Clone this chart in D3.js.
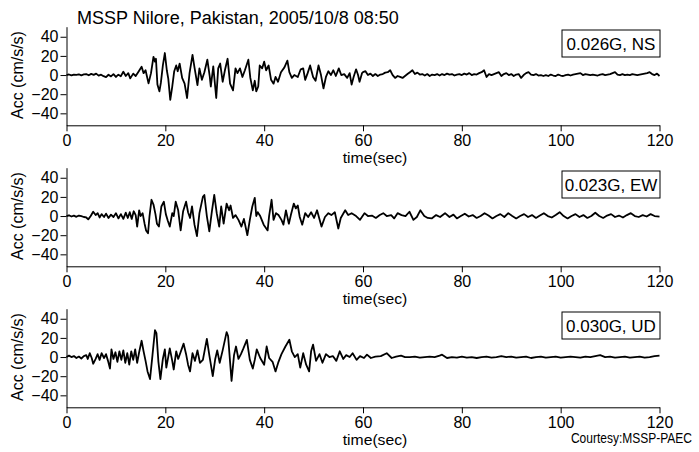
<!DOCTYPE html>
<html>
<head>
<meta charset="utf-8">
<script src="https://cdn.jsdelivr.net/npm/d3@7"></script>
<style>
  body { margin: 0; background: #fff; }
  svg { display: block; }
  text { font-family: 'Liberation Sans', Arial, sans-serif; fill: #000; }
</style>
</head>
<body>
<div id="chart"></div>
<script>
// Hand-digitised accelerograms, time (s) and acceleration (cm/s/s)
const nsMainTime = [0,0.5,1,1.5,2,2.5,3,3.5,4,4.5,5,5.5,6,6.5,7,7.5,8,8.5,9,9.5,10,10.5,11,11.5,12,12.5,12.9,13.5,14,14.5,15.2,15.6,16,16.6,17.1,17.6,17.9,18.1,18.4,18.8,19.1,19.5,19.9,20.3,20.6,21,21.4,21.8,22.2,22.5,22.9,23.4,23.9,24.4,24.9,25.5,25.9,26.5,26.9,27.4,27.9,28.5,29,29.2,29.7,30.3,30.7,31.1,31.6,32.1,32.6,33.1,33.7,34.2,34.6,35.1,35.6,36.1,36.8,37.2,37.7,38.1,38.4,38.8,39.1,39.6,40,40.4,40.9,41.4,41.9,42.3,42.8,43.4,44.1,44.7,45.1,45.6,46.1,46.8,47.4,47.9,48.3,48.8,49.3,49.9,50.4,51,51.5,52,52.5,53,53.5,54,54.5,55.1,55.6,56.2,56.8,57.3,57.7,58.1,58.6,59,59.3,59.8]
const nsMainAcc = [0,0.6,-0.4,0.5,0.2,0.8,-0.3,0.6,0.9,-0.2,1.2,0.2,1.5,-0.6,0.4,-1.2,-2.2,0.3,-1.4,1,-2,0.4,-1.2,3.5,-1,2,-3.5,1.5,-1,3,8.7,2,5,-8.7,2,19,14,17,-10,-17,-8,10,23,5,-4,-26,-12,4,10,4,12,-3,-9,-24,2,21,8,-10.5,7,-5,3,16,-2,-12,9,-24,7,12,-7,6,17,-9,-16,7,2,7,-2,5,16,-3,-16,-6,-17,-12,10,7,14,5,10,-5,-9,-2,-7,3,8,15,3,-3,0,-2,6,7,-5,2,10,-2,-6,10,0,-14,-2,4,0,5,-1,7,0,1,-3,2,-10,-2,6,0,-7,2]
const nsCodaTime = [
  60,60.5,61,61.5,62,62.5,63,63.5,64,64.5,
  65,65.5,66,66.5,67,67.5,68,68.5,69,69.5,
  70,70.5,71,71.5,72,72.5,73,73.5,74,74.5,
  75,75.5,76,76.5,77,77.5,78,78.5,79,79.5,
  80,80.5,81,81.5,82,82.5,83,83.5,84,84.5,
  85,85.5,86,86.5,87,87.5,88,88.5,89,89.5,
  90,90.5,91,91.5,92,92.5,93,93.5,94,94.5,
  95,95.5,96,96.5,97,97.5,98,98.5,99,99.5,
  100,100.5,101,101.5,102,102.5,103,103.5,104,104.5,
  105,105.5,106,106.5,107,107.5,108,108.5,109,109.5,
  110,110.5,111,111.5,112,112.5,113,113.5,114,114.5,
  115,115.5,116,116.5,117,117.5,118,118.5,119,119.5,
  120]
const nsCodaAcc = [
  3,4,0,1.5,-1,1,-1,0.5,1,2.5,
  3,5,0,-3,-1,-2,-3,-1,1,3,
  5,1,2.5,0.5,1,-0.5,1,-1,0.5,0,
  1,-0.5,1,0,1.5,0.5,1,-0.5,0.5,1,
  0,1.5,0.5,2,0,1,0.5,2,3,5,
  -2,1,0,1,2,3,-1,1,2,0,
  1,-1,0.5,1,-3,0,2,3,0.5,0,
  1,-0.5,0,-1,0,-1,0.5,-0.5,-1,0.5,
  -0.5,-1,0,0.5,-0.5,0.5,1,1.5,2,0,
  1,0.5,0,0.5,0,-0.5,0.5,1,0,0.5,
  1,2,3,0.5,0,1,0,0.5,0,1,
  0.5,0,0.5,1,1.5,2,3,1,0,1.5,
  -1]

const ewTime = [0,0.5,1,1.5,2,2.5,3,3.5,4,4.4,4.9,5.4,5.9,6.3,6.7,7.1,7.6,8,8.5,9,9.5,10,10.5,11,11.5,12,12.4,12.8,13.2,13.6,14,14.3,14.7,15,15.4,15.8,16.1,16.5,16.8,17.2,17.6,18,18.3,18.7,19.2,19.7,20.1,20.5,20.9,21.4,21.7,22.1,22.6,23.1,23.6,24.2,24.6,25,25.4,25.9,26.4,26.9,27.6,27.9,28.4,28.9,29.4,29.9,30.4,30.9,31.3,31.8,32.4,32.9,33.2,33.7,34.2,34.8,35.4,35.9,36.6,37.1,37.6,38.1,38.4,38.7,39.2,39.9,40.7,41,41.5,41.9,42.4,42.9,43.5,43.9,44.4,45,45.4,46,46.4,46.8,47.2,47.7,48.3,48.9,49.5,50.1,50.7,51.6,52.3,53,53.6,54.3,55,55.5,56.4,57,57.7,58.6,59.4,60.3,61,61.8,62.6,63.4,64.1,64.8,65.7,66.3,67,67.8,68.6,69.4,70.2,70.9,71.6,72.4,73.1,73.9,74.8,75.6,76.6,77.5,78.3,79,79.8,80.6,81.4,82.2,83,83.8,84.6,85.4,86.2,87,87.8,88.6,89.4,90.2,91,91.8,92.6,93.4,94.2,95,95.8,96.6,97.4,98.2,99,99.8,100.6,101.4,102.2,103,103.8,104.6,105.4,106.2,107,107.8,108.6,109.4,110.2,111,111.8,112.6,113.4,114.2,115,115.8,116.6,117.4,118.2,119,120]
const ewAcc = [0,0.8,-0.5,0.4,-0.8,0.5,-0.2,-1,-1.5,-3.5,0,4.5,1,3,-1.5,2,-1,2.5,-2,1.5,-1,3,-2.5,2,-3,3.5,-2,4,-3,5,1,-11,6,0,3,-8,-15,-18,0,17,12,2,-8,-11,10,15,2,-5,-11,3,0,15,6,-15,5,15,4,-2,10,-9,-21,3,20,22,0,-16,4,22,3,-11,10,-8,13,6,11,-2,1,-4,-11,-3,-20,-4,10,19,0,4,0,-9,-15,0,17,-4,3,1,-4,-9,6,-8,1,13,8,11,-1,-9,3,-1,4,-2,6,-11,-1,3,1,4,-13,-2,6,1,3,0,-4,3,0,0.5,-2,1,3,0,1,-2.5,3,1,0,4.5,-4,-1,6,0,-2,-2.5,1,-1,3,-1,1.5,-2.5,0,2.5,-0.5,1,-2,0,3,0.5,-2.5,0,2,-1,3,0,-2.5,0,2,-1,1,-2,0.5,3,0,-1.5,1,4,0,-2.5,0,2,-1,1,-2,0,3.5,0,-2,0.5,2,-1,0.5,-1.5,1,3,0,-1,1,-0.5,2,0,-0.5]

const udTime = [0,0.5,1,1.5,2,2.5,3,3.5,4,4.3,4.7,5.1,5.4,5.9,6.3,6.7,7.1,7.6,8,8.4,8.8,9.1,9.5,9.9,10.3,10.7,11.1,11.5,11.9,12.3,12.7,13.1,13.5,13.9,14.3,14.7,15.2,15.6,16,16.4,16.9,17.4,17.9,18.2,18.6,19,19.5,19.9,20.2,20.9,21.4,21.7,22.2,22.6,23.7,24.2,24.6,25,25.5,26,26.5,27,27.6,28.4,28.9,29.6,30.1,30.5,31,31.6,32.4,32.7,33.1,33.4,33.9,34.3,34.8,35.3,35.8,36.5,37.1,37.7,38.1,38.5,39.2,40,40.5,41,41.7,42.3,42.9,43.5,44.3,45.1,45.6,46.2,46.8,47.3,47.9,48.5,49.1,49.5,49.9,50.5,51.2,51.8,52.5,53.2,53.9,54.6,55.3,56,56.6,57.3,57.9,58.7,59.4,60.2,60.8,61.6,62.5,63.6,64.8,65.8,66.7,67.7,68.5,69.5,70.5,71.5,72.5,73.5,74.5,75.5,76,77,78,79,80,81,82,83,84,85,86,87,88,89,90,91,92,93,94,95,96,97,98,99,100,101,102,103,104,105,106,107,108,109,110,111,112,113,114,115,116,117,118,119,120]
const udAcc = [0,1.5,0,1,-1,0.5,-1.5,1,2,-2,4,-1,-7,-2,3,-3,4,-1,3,-4,-12,8,-2,5,-5,6,-3,7,-6,4,-8,6,-3,8,-6,5,17,6,-4,-15,-23,2,28,25,-5,-23,-2,8,-11,9,-4,-13,6,-2,14,3,-8,-15,4,-4,7,-6,-3,19,2,-20,-2,7,-6,7,26,22,-5,-25,2,11,-2,3,9,18,-3,-12,-3,8,-1,-8,11,-1,-5,-15,-5,3,11,18,6,0,3,-11,4,-8,-15,6,13,-4,3,-6,3,0,1,-4,6,-2,2,0,4,-3,1,-1,2.5,-1,0.5,1,4,-1,0.5,1.5,0,0,0.5,-0.5,0,0.5,0,1.5,2.5,-1,0,-0.5,0.5,-0.5,0,-1,0,0.5,-0.5,0,1,0,0.5,-0.5,0,0.5,-1,0,0.5,-0.5,0,0.5,-0.5,0,0.5,0,-0.5,0.5,0,1,2,0,0.5,-0.5,0,0.5,-0.5,0,0.5,-0.5,0,1,1.5]

const components = ['0.026G, NS', '0.023G, EW', '0.030G, UD']
const xTicks = [0, 20, 40, 60, 80, 100, 120]
const yTicks = [40, 20, 0, -20, -40]

const traces = [
  { time: nsMainTime.concat(nsCodaTime), acc: nsMainAcc.concat(nsCodaAcc) },
  { time: ewTime, acc: ewAcc },
  { time: udTime, acc: udAcc }
]

const width = 699
const height = 452
const panelStep = 141

const svg = d3.select('#chart')
  .append('svg')
  .attr('width', width)
  .attr('height', height)

const x = d3.scaleLinear().domain([0, 120]).range([66.5, 659.5])
const y = d3.scaleLinear().domain([-52.5, 50.5]).range([125.3, 26.7])

const line = d3.line()
  .x(d => x(d[0]))
  .y(d => y(d[1]))

svg.append('text')
  .attr('x', 77)
  .attr('y', 23.5)
  .attr('font-size', '18px')
  .text('MSSP Nilore, Pakistan, 2005/10/8 08:50')

traces.forEach((tr, i) => {
  const g = svg.append('g').attr('transform', `translate(0,${i * panelStep})`)

  // axes
  const yAxis = g.append('g')
    .attr('transform', `translate(${x(0)},0)`)
    .call(d3.axisLeft(y).tickValues(yTicks).tickSize(6).tickSizeOuter(0).tickPadding(2))
  const xAxis = g.append('g')
    .attr('transform', `translate(0,${y.range()[0]})`)
    .call(d3.axisBottom(x).tickValues(xTicks).tickSize(6).tickSizeOuter(0).tickPadding(3))

  ;[yAxis, xAxis].forEach(ax => {
    ax.selectAll('path, line').attr('stroke', '#000').attr('stroke-width', 1)
    ax.selectAll('text')
      .attr('font-family', "'Liberation Sans', Arial, sans-serif")
      .attr('font-size', '16px')
      .attr('fill', '#000')
  })

  // trace
  const pts = tr.time.map((t, k) => [t, tr.acc[k]])
  g.append('path')
    .datum(pts)
    .attr('fill', 'none')
    .attr('stroke', '#000')
    .attr('stroke-width', 1.8)
    .attr('stroke-linejoin', 'round')
    .attr('d', line)

  // peak label box
  g.append('rect')
    .attr('x', 562)
    .attr('y', 30)
    .attr('width', 98)
    .attr('height', 27)
    .attr('fill', '#fff')
    .attr('stroke', '#000')
    .attr('stroke-width', 1)
  g.append('text')
    .attr('x', 611)
    .attr('y', 49.5)
    .attr('text-anchor', 'middle')
    .attr('font-size', '17px')
    .text(components[i])

  // axis titles
  g.append('text')
    .attr('transform', `translate(23,${y(0)}) rotate(-90)`)
    .attr('text-anchor', 'middle')
    .attr('font-size', '16px')
    .text('Acc (cm/s/s)')
  g.append('text')
    .attr('transform', 'translate(375,163) scale(1.05,1)')
    .attr('text-anchor', 'middle')
    .attr('font-size', '15px')
    .text('time(sec)')
})

svg.append('text')
  .attr('transform', 'translate(692,443) scale(0.8,1)')
  .attr('text-anchor', 'end')
  .attr('font-size', '15px')
  .text('Courtesy:MSSP-PAEC')
</script>
</body>
</html>
